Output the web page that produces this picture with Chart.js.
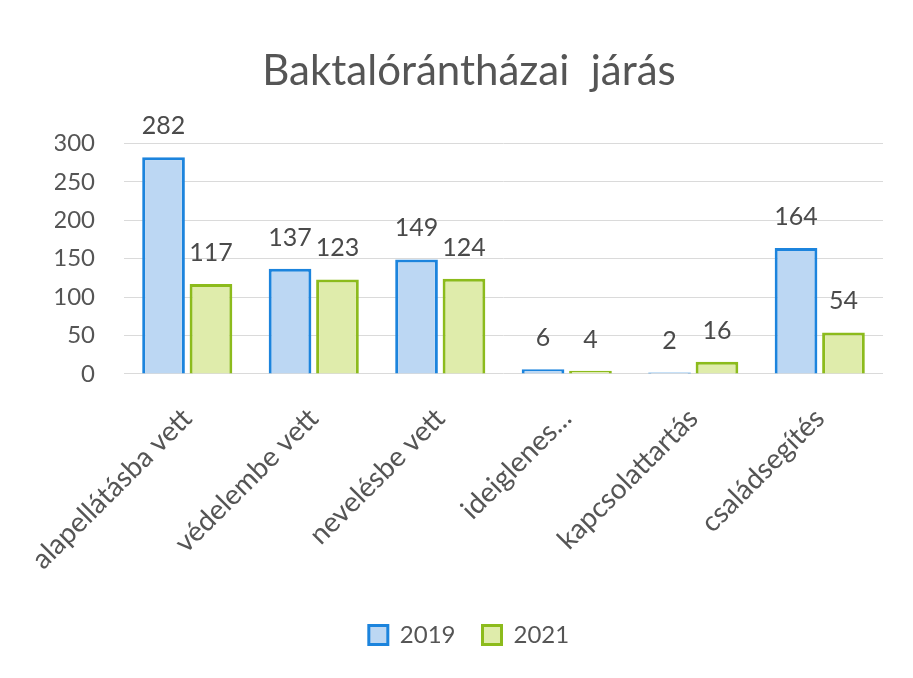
<!DOCTYPE html>
<html>
<head>
<meta charset="utf-8">
<script src="https://cdn.jsdelivr.net/npm/chart.js@4"></script>
<style>
  html, body { margin: 0; padding: 0; background: #fff; }
  #wrap { width: 913px; height: 678px; }
</style>
</head>
<body>
<div id="wrap"><canvas id="chart" width="913" height="678"></canvas></div>
<script>
const categories = ["alapellátásba vett", "védelembe vett", "nevelésbe vett", "ideiglenes...", "kapcsolattartás", "családsegítés"];
const values2019 = [282, 137, 149, 6, 2, 164];
const values2021 = [117, 123, 124, 4, 16, 54];
const yTicks = [0, 50, 100, 150, 200, 250, 300];

const FONT = "Lato, 'Open Sans', sans-serif";

// draws the value above each bar
const valueLabels = {
  id: "valueLabels",
  afterDatasetsDraw(chart) {
    const ctx = chart.ctx;
    ctx.save();
    ctx.font = "25px " + FONT;
    ctx.fillStyle = "#4a4a4a";
    ctx.textAlign = "center";
    ctx.textBaseline = "alphabetic";
    chart.data.datasets.forEach((ds, i) => {
      chart.getDatasetMeta(i).data.forEach((bar, j) => {
        ctx.fillText(ds.data[j], bar.x, bar.y - 23);
      });
    });
    ctx.restore();
  }
};

new Chart(document.getElementById("chart"), {
  type: "bar",
  data: {
    labels: categories,
    datasets: [
      {
        label: "2019",
        data: values2019,
        backgroundColor: "#bcd7f3",
        borderColor: "#1c84dd",
        borderWidth: 3
      },
      {
        label: "2021",
        data: values2021,
        backgroundColor: "#dfecab",
        borderColor: "#8cbb1c",
        borderWidth: 3
      }
    ]
  },
  options: {
    responsive: false,
    animation: false,
    categoryPercentage: 0.75,
    barPercentage: 0.9,
    layout: { padding: { left: 55, right: 30, top: 40, bottom: 21 } },
    plugins: {
      title: {
        display: true,
        text: "Baktalórántházai  járás",
        color: "#555555",
        font: { family: FONT, size: 42, weight: "normal" },
        padding: { top: 6, bottom: 47 }
      },
      legend: {
        position: "bottom",
        labels: {
          color: "#555555",
          font: { family: FONT, size: 24 },
          boxWidth: 19,
          boxHeight: 19,
          padding: 27
        }
      },
      tooltip: { enabled: false }
    },
    scales: {
      x: {
        grid: { display: false },
        border: { display: false },
        // let the first rotated label run out to the left like the original
        afterFit(scale) { scale.paddingLeft = 0; },
        ticks: {
          color: "#555555",
          font: { family: FONT, size: 28 },
          minRotation: 45,
          maxRotation: 45,
          padding: 20
        }
      },
      y: {
        min: 0,
        max: 300,
        afterBuildTicks(axis) { axis.ticks = yTicks.map(v => ({ value: v })); },
        afterFit(scale) { scale.width = 69; },
        grid: { color: "#dadada", lineWidth: 1, drawTicks: false },
        border: { display: false },
        ticks: {
          color: "#555555",
          font: { family: FONT, size: 24 },
          padding: 29
        }
      }
    }
  },
  plugins: [valueLabels]
});
</script>
</body>
</html>
